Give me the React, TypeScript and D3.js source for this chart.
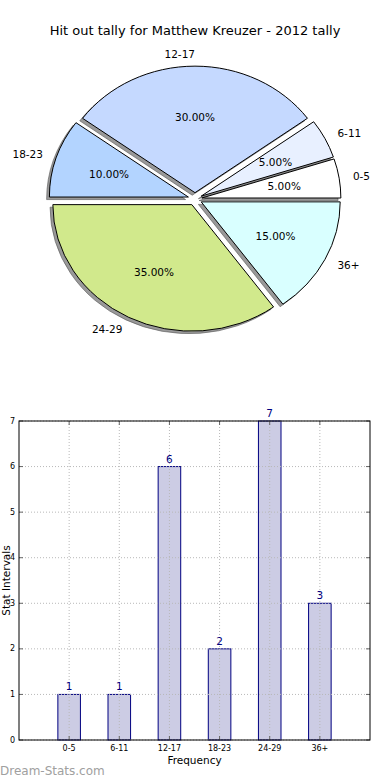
import * as d3 from "d3";

const categories = ["0-5", "6-11", "12-17", "18-23", "24-29", "36+"];
const counts = [1, 1, 6, 2, 7, 3];
const sliceColors = ["#ffffff", "#e8f0ff", "#c5d9ff", "#b3d4ff", "#d1e98c", "#d9ffff"];
const yTicks = [0, 1, 2, 3, 4, 5, 6, 7];

const FONT = "DejaVu Sans, Verdana, sans-serif";

function PieChart() {
  const cx = 195;
  const cy = 199;
  const rx = 139;
  const ry = 126.5;
  const explode = 0.05;
  const total = d3.sum(counts);

  // matplotlib style: start at 3 o'clock, counter-clockwise
  const arcs = d3
    .pie<number>()
    .sort(null)
    .startAngle(Math.PI / 2)
    .endAngle(Math.PI / 2 - 2 * Math.PI)(counts);
  const arc = d3.arc<d3.PieArcDatum<number>>().innerRadius(0).outerRadius(1);

  const items = arcs.map((a, i) => {
    const mid = (a.startAngle + a.endAngle) / 2;
    const dx = Math.sin(mid);
    const dy = -Math.cos(mid);
    return {
      a,
      i,
      dx,
      dy,
      ox: cx + dx * explode * rx,
      oy: cy + dy * explode * ry,
    };
  });

  return (
    <g>
      {items.map((d) => (
        <g key={"s" + d.i} transform={`translate(${d.ox - 0.02 * rx},${d.oy + 0.02 * ry}) scale(${rx},${ry})`}>
          <path
            d={arc(d.a) ?? ""}
            fill="#555"
            fillOpacity={0.6}
            stroke="#555"
            strokeOpacity={0.6}
            strokeWidth={1}
            vectorEffect="non-scaling-stroke"
          />
        </g>
      ))}
      {items.map((d) => (
        <g key={"w" + d.i} transform={`translate(${d.ox},${d.oy}) scale(${rx},${ry})`}>
          <path
            d={arc(d.a) ?? ""}
            fill={sliceColors[d.i]}
            stroke="#000"
            strokeWidth={1}
            vectorEffect="non-scaling-stroke"
          />
        </g>
      ))}
      {items.map((d) => (
        <text
          key={"l" + d.i}
          x={d.ox + d.dx * 1.1 * rx}
          y={d.oy + d.dy * 1.1 * ry}
          textAnchor={d.dx > 0 ? "start" : "end"}
          dominantBaseline="central"
          fontSize={10.5}
          fontFamily={FONT}
        >
          {categories[d.i]}
        </text>
      ))}
      {items.map((d) => (
        <text
          key={"p" + d.i}
          x={d.ox + d.dx * 0.6 * rx}
          y={d.oy + d.dy * 0.6 * ry}
          textAnchor="middle"
          dominantBaseline="central"
          fontSize={10.5}
          fontFamily={FONT}
        >
          {((counts[d.i] / total) * 100).toFixed(2) + "%"}
        </text>
      ))}
    </g>
  );
}

function BarChart() {
  const left = 19;
  const right = 370;
  const top = 421;
  const bottom = 740;
  const x = d3.scaleLinear().domain([-1, categories.length]).range([left, right]);
  const y = d3.scaleLinear().domain([0, 7]).range([bottom, top]);
  const bw = x(0.45) - x(0);
  const grid = "#b8b8b8";

  return (
    <g fontFamily={FONT}>
      {counts.map((v, i) => (
        <rect
          key={"b" + i}
          x={x(i) - bw / 2}
          y={y(v)}
          width={bw}
          height={y(0) - y(v)}
          fill="#ccccE4"
          stroke="#000080"
          strokeWidth={1}
        />
      ))}
      {yTicks.map((t) => (
        <line key={"gy" + t} x1={left} x2={right} y1={y(t)} y2={y(t)} stroke={grid} strokeDasharray="1,2" />
      ))}
      {categories.map((c, i) => (
        <line key={"gx" + i} x1={x(i)} x2={x(i)} y1={top} y2={bottom} stroke={grid} strokeDasharray="1,2" />
      ))}
      {yTicks.map((t) => (
        <g key={"ty" + t}>
          <line x1={left} x2={left + 4} y1={y(t)} y2={y(t)} stroke="#666" />
          <line x1={right - 4} x2={right} y1={y(t)} y2={y(t)} stroke="#666" />
          <text x={left - 4} y={y(t)} textAnchor="end" dominantBaseline="central" fontSize={8}>
            {t}
          </text>
        </g>
      ))}
      {categories.map((c, i) => (
        <g key={"tx" + i}>
          <line x1={x(i)} x2={x(i)} y1={bottom} y2={bottom - 4} stroke="#666" />
          <line x1={x(i)} x2={x(i)} y1={top} y2={top + 4} stroke="#666" />
          <text x={x(i)} y={bottom + 11} textAnchor="middle" fontSize={8}>
            {c}
          </text>
        </g>
      ))}
      <rect x={left} y={top} width={right - left} height={bottom - top} fill="none" stroke="#000" strokeWidth={1} />
      {counts.map((v, i) => (
        <text key={"v" + i} x={x(i)} y={y(v) - 4} textAnchor="middle" fontSize={10.5} fill="#000080">
          {v}
        </text>
      ))}
      <text x={(left + right) / 2} y={764} textAnchor="middle" fontSize={10.5}>
        Frequency
      </text>
      <text transform={`translate(9.5,${(top + bottom) / 2}) rotate(-90)`} textAnchor="middle" fontSize={10.5}>
        Stat Intervals
      </text>
    </g>
  );
}

export default function App() {
  return (
    <svg
      width={390}
      height={780}
      style={{ position: "absolute", left: 0, top: 0, background: "#fff" }}
    >
      <rect width={390} height={780} fill="#fff" />
      <text x={195} y={35} textAnchor="middle" fontSize={13} fontFamily={FONT}>
        Hit out tally for Matthew Kreuzer - 2012 tally
      </text>
      <PieChart />
      <BarChart />
      <text x={0} y={775} fontSize={12} fontFamily={FONT} fill="#a0a0a0">
        Dream-Stats.com
      </text>
    </svg>
  );
}
